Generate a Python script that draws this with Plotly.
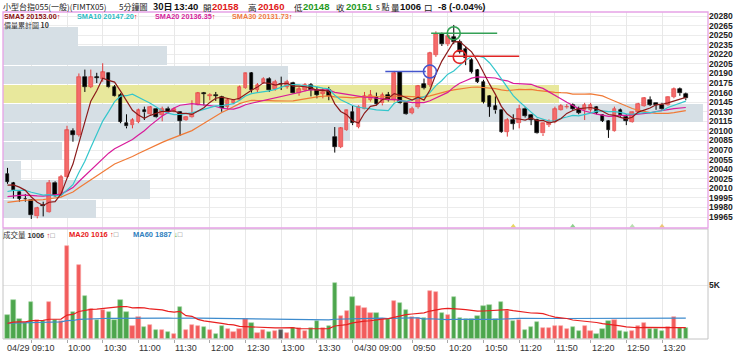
import plotly.graph_objects as go

W, H = 740, 353

# ---------------- data ----------------
opens = [20033, 20018, 20005, 19994, 19992, 19966, 19984, 19973, 20019, 19999,
         20028, 20100, 20094, 20185, 20169, 20184, 20181, 20190, 20169, 20156,
         20113, 20109, 20114, 20133, 20126, 20134, 20125, 20135, 20131, 20130,
         20117, 20121, 20141, 20159, 20155, 20157, 20153, 20138, 20144, 20149,
         20167, 20190, 20164, 20175, 20181, 20165, 20173, 20169, 20175, 20159,
         20164, 20172, 20164, 20158, 20164, 20091, 20075, 20101, 20130, 20106,
         20135, 20148, 20153, 20143, 20156, 20148, 20192, 20143, 20128, 20137,
         20173, 20172, 20219, 20252, 20236, 20247, 20240, 20229, 20211, 20195,
         20177, 20155, 20139, 20132, 20099, 20117, 20112, 20135, 20125, 20117,
         20096, 20109, 20114, 20133, 20137, 20140, 20135, 20133, 20133, 20138,
         20125, 20116, 20100, 20133, 20122, 20114, 20129, 20139, 20149, 20143,
         20141, 20140, 20153, 20165, 20158]
highs = [20042, 20020, 20007, 20001, 19993, 19981, 19989, 20023, 20021, 20031,
         20108, 20104, 20190, 20196, 20196, 20191, 20206, 20191, 20172, 20159,
         20126, 20120, 20135, 20138, 20139, 20135, 20138, 20138, 20137, 20131,
         20123, 20148, 20161, 20161, 20159, 20161, 20155, 20151, 20150, 20171,
         20191, 20192, 20175, 20184, 20184, 20180, 20185, 20180, 20177, 20169,
         20175, 20175, 20169, 20167, 20169, 20106, 20106, 20133, 20140, 20140,
         20161, 20164, 20160, 20160, 20161, 20194, 20193, 20144, 20138, 20172,
         20182, 20224, 20256, 20254, 20250, 20266, 20243, 20232, 20214, 20197,
         20180, 20156, 20154, 20133, 20120, 20126, 20141, 20137, 20126, 20119,
         20113, 20118, 20138, 20142, 20142, 20143, 20138, 20144, 20144, 20139,
         20126, 20117, 20138, 20135, 20126, 20130, 20144, 20153, 20154, 20144,
         20144, 20154, 20168, 20168, 20160]
lows = [20017, 19994, 19989, 19989, 19962, 19963, 19966, 19972, 19997, 19997,
        20027, 20083, 20091, 20161, 20167, 20175, 20177, 20167, 20154, 20112,
        20104, 20104, 20112, 20117, 20125, 20120, 20115, 20127, 20129, 20092,
        20116, 20120, 20140, 20140, 20148, 20147, 20130, 20133, 20142, 20148,
        20166, 20160, 20160, 20174, 20161, 20163, 20164, 20166, 20158, 20155,
        20162, 20154, 20151, 20151, 20148, 20066, 20073, 20100, 20109, 20104,
        20134, 20146, 20140, 20140, 20146, 20146, 20142, 20125, 20126, 20135,
        20165, 20169, 20216, 20233, 20233, 20236, 20221, 20203, 20190, 20175,
        20143, 20122, 20127, 20097, 20091, 20102, 20104, 20121, 20109, 20095,
        20092, 20106, 20112, 20132, 20135, 20133, 20126, 20117, 20130, 20126,
        20114, 20089, 20099, 20122, 20109, 20113, 20127, 20138, 20139, 20133,
        20133, 20139, 20151, 20155, 20148]
closes = [20020, 20007, 19994, 19993, 19968, 19979, 19982, 20019, 19998, 20028,
          20101, 20094, 20185, 20169, 20184, 20183, 20192, 20168, 20155, 20114,
          20107, 20117, 20132, 20129, 20137, 20121, 20135, 20130, 20134, 20116,
          20122, 20127, 20159, 20158, 20157, 20155, 20136, 20148, 20148, 20169,
          20190, 20164, 20172, 20182, 20164, 20177, 20173, 20177, 20159, 20165,
          20172, 20164, 20157, 20161, 20155, 20075, 20104, 20132, 20112, 20138,
          20154, 20156, 20142, 20156, 20148, 20190, 20143, 20126, 20135, 20170,
          20167, 20222, 20252, 20236, 20248, 20240, 20224, 20214, 20193, 20177,
          20146, 20138, 20132, 20099, 20117, 20111, 20134, 20123, 20117, 20096,
          20112, 20114, 20134, 20139, 20138, 20135, 20128, 20141, 20141, 20128,
          20116, 20102, 20135, 20125, 20116, 20129, 20142, 20151, 20141, 20141,
          20134, 20153, 20165, 20159, 20151]
volumes = [2222, 3611, 1820, 1450, 3395, 1760, 1667, 3456, 1760, 1667,
           8610, 2530, 6850, 3980, 2777, 1760, 2685, 2530, 1760, 3611,
           2469, 1234, 2037, 1142, 1327, 833, 833, 617, 463, 2963,
           833, 1296, 1234, 1111, 833, 494, 1173, 926, 648, 895,
           1820, 1512, 586, 833, 679, 771, 833, 525, 988, 988,
           771, 988, 1667, 988, 1234, 5215, 2098, 2561, 3858, 3024,
           2839, 2376, 2376, 1852, 1852, 3518, 3364, 2685, 2006, 1913,
           1913, 4444, 4351, 2376, 2191, 3858, 1944, 1820, 1820, 2129,
           3055, 3117, 1820, 3425, 2561, 1697, 1760, 833, 1142, 1574,
           1018, 1018, 1204, 1204, 926, 1080, 741, 1204, 771, 432,
           926, 1667, 1728, 741, 648, 710, 1234, 1481, 957, 957,
           771, 1080, 2006, 1018, 1006]

# bars before the visible window (estimated so the averages start where the reference shows them)
pre_closes = [19962, 19965, 19960, 19968, 19972, 19970, 19975, 19973, 19978, 19977,
              19980, 19984, 19982, 19988, 19986, 19990, 19993, 19991, 19996, 20000,
              19990, 19994, 19992, 19998, 20001, 20005, 20012, 20018, 20020]
pre_volumes = [1600, 1500, 1450, 1700, 1400, 1350, 1550, 1300, 1450, 1500,
               1400, 1250, 1600, 1350, 1500, 1450, 1300, 1550, 1400, 1650,
               1500, 1350, 1450, 1400, 1550, 1300, 1600, 1450, 1350, 1500,
               1400, 1550, 1450, 1300, 1500, 1600, 1400, 1450, 1500, 1550,
               1300, 1450, 1250, 1400, 1350, 1500, 1300, 1450, 1600, 1250,
               1400, 1350, 1500, 1300, 1450, 1400, 1550, 1500, 1480]

# price-volume profile (10 price levels)
profile_prices = [19978, 20008, 20038, 20068, 20098, 20128, 20158, 20188, 20218, 20248]
profile_volumes = [8200, 12900, 1600, 5200, 30500, 61600, 48900, 25100, 14400, 6600]
profile_step = 30

# time axis
grid_idx = [4, 10, 16, 22, 28, 34, 40, 46, 52, 58, 68, 74, 80, 86, 92, 98, 104, 110]
label_idx = [0, 10, 16, 22, 28, 34, 40, 46, 52, 58, 68, 74, 80, 86, 92, 98, 104, 110]
label_text = ["04/29 09:10", "10:00", "10:30", "11:00", "11:30", "12:00", "12:30",
              "13:00", "13:30", "04/30 09:00", "09:50", "10:20", "10:50", "11:20",
              "11:50", "12:20", "12:50", "13:20"]
price_ticks = list(range(19965, 20281, 15))

# signal marks drawn by the software
sig_lines = [(63.5, 70.3, 20193, "#4455cc"), (74, 86, 20217, "#e02424"), (71.2, 82.3, 20253, "#33a055")]
sig_circles = [(71, 20193, "#4455cc"), (76, 20216, "#e02424"), (75, 20253, "#33a055")]
event_idx = [85, 95, 105, 110]
event_colors = ["#e8d860", "#8cd08c", "#b8e0b0", "#ecc878"]

# ---------------- geometry ----------------
X0, X1 = 3, 708          # plot area left/right px
MAIN_T, MAIN_B = 12, 228
VOL_T, VOL_B = 229, 339
n = len(closes)
dx = 5.95
k_first_px = 7.5
xr = [(X0 - k_first_px) / dx, (X1 - k_first_px) / dx]
yr = [19947.8, 20286.3]
vr = [0, 10185]
xd = [X0 / W, X1 / W]
yd_main = [1 - MAIN_B / H, 1 - MAIN_T / H]
yd_vol = [1 - VOL_B / H, 1 - VOL_T / H]


def sma(vals, pre, period):
    full = pre + vals
    off = len(pre)
    return [sum(full[off + i - period + 1: off + i + 1]) / period for i in range(len(vals))]


UP = "#f46a6a"
UP_LINE = "#e23a3a"
DN = "#000000"
VUP = "#f25c5c"
VDN = "#4da64d"

fig = go.Figure()

# profile (base subplot x/y, below candles)
cur_bin = min(range(len(profile_prices)), key=lambda j: abs(profile_prices[j] - closes[-1]))
prof_colors = ["#e8e89c" if j == cur_bin else "#d6dfe5" for j in range(len(profile_prices))]
fig.add_trace(go.Bar(x=profile_volumes, y=profile_prices, orientation="h", width=profile_step - 1.2,
                     marker=dict(color=prof_colors, line=dict(width=0)), xaxis="x", yaxis="y",
                     hoverinfo="skip", showlegend=False))

# candles
up = [i for i in range(n) if closes[i] > opens[i]]
dn = [i for i in range(n) if closes[i] <= opens[i]]


def wicks(sel):
    xs, ys = [], []
    for i in sel:
        top = max(opens[i], closes[i])
        bot = min(opens[i], closes[i])
        xs += [i, i, None, i, i, None]
        ys += [highs[i], top, None, bot, lows[i], None]
    return xs, ys


for sel, col in ((up, UP_LINE), (dn, DN)):
    xs, ys = wicks(sel)
    fig.add_trace(go.Scatter(x=xs, y=ys, mode="lines", line=dict(color=col, width=1),
                             xaxis="x3", yaxis="y", hoverinfo="skip", showlegend=False))

for sel, fill, edge in ((up, UP, UP_LINE), (dn, DN, DN)):
    fig.add_trace(go.Bar(x=sel, y=[max(abs(closes[i] - opens[i]), 0.8) for i in sel],
                         base=[min(opens[i], closes[i]) for i in sel], width=0.62,
                         marker=dict(color=fill, line=dict(color=edge, width=0.6)),
                         xaxis="x3", yaxis="y", hoverinfo="skip", showlegend=False))

# moving averages
sma_specs = [(30, "#f07a36"), (20, "#d81b9a"), (10, "#33c6cc"), (5, "#8b1a1a")]
for p, col in sma_specs:
    fig.add_trace(go.Scatter(x=list(range(n)), y=sma(closes, pre_closes, p), mode="lines",
                             line=dict(color=col, width=1.2), xaxis="x3", yaxis="y",
                             hoverinfo="skip", showlegend=False))

# signal lines / circles
for a, b, pr, col in sig_lines:
    fig.add_trace(go.Scatter(x=[a, b], y=[pr, pr], mode="lines", line=dict(color=col, width=1.6),
                             xaxis="x3", yaxis="y", hoverinfo="skip", showlegend=False))
for k, pr, col in sig_circles:
    fig.add_trace(go.Scatter(x=[k], y=[pr], mode="markers",
                             marker=dict(symbol="circle-open", size=13, color=col, line=dict(width=1.6)),
                             xaxis="x3", yaxis="y", hoverinfo="skip", showlegend=False))

fig.add_trace(go.Scatter(x=event_idx, y=[19950.5] * len(event_idx), mode="markers",
                         marker=dict(symbol="triangle-up", size=5, color=event_colors),
                         xaxis="x3", yaxis="y", cliponaxis=False, hoverinfo="skip", showlegend=False))

# volume
vcol = [VUP if closes[i] > opens[i] else (VDN if closes[i] < opens[i] else "#555555") for i in range(n)]
vedge = ["#f8a8a8" if closes[i] > opens[i] else ("#a6d8a6" if closes[i] < opens[i] else "#888888") for i in range(n)]
fig.add_trace(go.Bar(x=list(range(n)), y=volumes, width=0.72,
                     marker=dict(color=vcol, line=dict(color=vedge, width=0.6)),
                     xaxis="x2", yaxis="y2", hoverinfo="skip", showlegend=False))
fig.add_trace(go.Scatter(x=list(range(n)), y=sma(volumes, pre_volumes, 60), mode="lines",
                         line=dict(color="#3d8bcd", width=1.2), xaxis="x2", yaxis="y2",
                         hoverinfo="skip", showlegend=False))
fig.add_trace(go.Scatter(x=list(range(n)), y=sma(volumes, pre_volumes, 20), mode="lines",
                         line=dict(color="#e82020", width=1.2), xaxis="x2", yaxis="y2",
                         hoverinfo="skip", showlegend=False))

GRID = "#e8e8e8"
fig.update_layout(
    width=W, height=H, autosize=False, margin=dict(l=0, r=0, t=0, b=0),
    paper_bgcolor="white", plot_bgcolor="white", barmode="overlay", bargap=0,
    font=dict(family="Liberation Sans", size=9, color="#222"),
    xaxis=dict(domain=xd, anchor="y", range=[0, max(profile_volumes) * (X1 - X0) / 700.0],
               visible=False, fixedrange=True),
    xaxis3=dict(overlaying="x", anchor="y", range=xr, tickvals=grid_idx, showticklabels=False,
                showgrid=True, gridcolor=GRID, gridwidth=1, zeroline=False, showline=False, ticks=""),
    yaxis=dict(domain=yd_main, anchor="x", range=yr, side="right", tickvals=price_ticks,
               tickformat="d",
               showgrid=True, gridcolor="#ececec", gridwidth=1, zeroline=False, showline=False, ticks="",
               tickfont=dict(family="Liberation Sans", size=8.5, color="#222", weight="bold")),
    xaxis2=dict(domain=xd, anchor="y2", range=xr, tickvals=grid_idx, showticklabels=False,
                showgrid=True, gridcolor=GRID, gridwidth=1, zeroline=False, showline=False,
                ticks="outside", ticklen=3, tickcolor="#aaaaaa"),
    yaxis2=dict(domain=yd_vol, anchor="x2", range=vr, side="right", tickvals=[5000], ticktext=["5K"],
                showgrid=True, gridcolor=GRID, zeroline=False, showline=False, ticks="",
                tickfont=dict(family="Liberation Sans", size=8.5, color="#222", weight="bold")),
)

# panel borders
fig.add_shape(type="rect", xref="paper", yref="paper", x0=xd[0], x1=xd[1], y0=yd_vol[0], y1=yd_vol[1],
              line=dict(color="#c4c4c4", width=1), layer="above")
fig.add_shape(type="rect", xref="paper", yref="paper", x0=xd[0], x1=xd[1], y0=yd_main[0], y1=yd_main[1],
              line=dict(color="#e6a2e6", width=1.3), layer="above")

ann = []
CJK = "Noto Sans CJK TC"


def txt(px, py, text, size=9, color="#222", family="Liberation Sans"):
    ann.append(dict(x=px / W, y=1 - py / H, xref="paper", yref="paper", text=text, showarrow=False,
                    xanchor="left", yanchor="middle", font=dict(size=size, color=color, family=family)))


RED, GREEN = "#e01818", "#1f9a1f"
# header
txt(1, 6.5, "小型台指055(一般)(FIMTX05)", 8, "#222", CJK)
txt(117, 6.5, "5分鐘圖", 8, "#222", CJK)
txt(151, 6.5, "<b>30日</b>", 9, "#111", CJK)
txt(172, 6.5, "<b>13:40</b>", 9.5, "#111")
txt(201, 6.5, "開", 8.5, "#222", CJK)
txt(210, 6.5, "<b>20158</b>", 9.5, RED)
txt(246, 6.5, "高", 8.5, "#222", CJK)
txt(256, 6.5, "<b>20160</b>", 9.5, RED)
txt(292, 6.5, "低", 8.5, "#222", CJK)
txt(301, 6.5, "<b>20148</b>", 9.5, GREEN)
txt(334, 6.5, "收", 8.5, "#222", CJK)
txt(344, 6.5, "<b>20151</b>", 9.5, GREEN)
txt(374, 6.5, "s 點", 8, "#222", CJK)
txt(389, 6.5, "量", 8.5, "#222", CJK)
txt(398, 6.5, "<b>1006</b>", 9.5, "#111")
txt(422, 6.5, "口", 8.5, "#222", CJK)
txt(436, 6.5, "<b>-8 (-0.04%)</b>", 9.5, "#111")

# MA legend
arrow = "<span style='color:#e01010'>↑</span>"
txt(2, 16.5, "<b>SMA5 20153.00</b>" + arrow, 7.3, "#8b1010")
txt(75, 16.5, "<b>SMA10 20147.20</b>" + arrow, 7.3, "#2cbcc4")
txt(153, 16.5, "<b>SMA20 20136.35</b>" + arrow, 7.3, "#d4249c")
txt(230, 16.5, "<b>SMA30 20131.73</b>" + arrow, 7.3, "#f07b3f")
txt(2, 25, "價量累計圖 <b>10</b>", 7, "#333", CJK)

# volume legend
box = "<span style='color:#777'>□</span>"
txt(1, 234.5, "<span style='font-family:Noto Sans CJK TC'>成交量</span> <b>1006</b> " + arrow + box, 7.5, "#333")
txt(67, 234.5, "<b>MA20 1016</b> " + arrow + box, 7.5, "#e82020")
txt(131, 234.5, "<b>MA60 1887</b> <span style='color:#1f9a1f'>↓</span>" + box, 7.5, "#2f7fc0")

# time labels
for k, t in zip(label_idx, label_text):
    ann.append(dict(x=k, y=1 - 347.5 / H, xref="x2", yref="paper", text=t, showarrow=False,
                    xanchor="left", yanchor="middle", xshift=-3 if k == 0 else -1,
                    font=dict(size=9, color="#333", family="Liberation Sans")))

fig.update_layout(annotations=ann)
fig.write_html("out.html", include_plotlyjs=True, config={"displayModeBar": False, "responsive": False})
